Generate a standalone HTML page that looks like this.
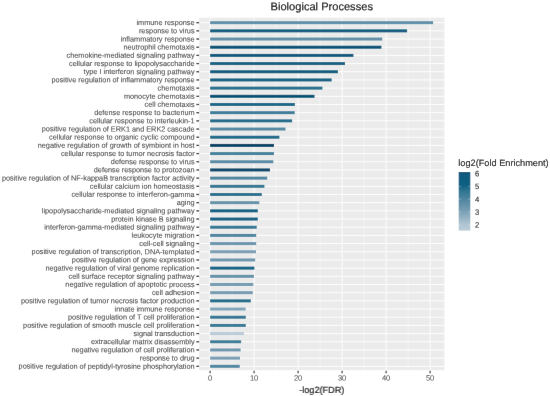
<!DOCTYPE html><html><head><meta charset="utf-8"><style>html,body{margin:0;padding:0;background:#fff;width:550px;height:396px;overflow:hidden}svg{display:block;will-change:transform}text{font-family:"Liberation Sans",sans-serif;text-rendering:geometricPrecision}</style></head><body>
<svg width="550" height="396" viewBox="0 0 550 396">
<defs><filter id="bl" x="0" y="0" width="550" height="396" filterUnits="userSpaceOnUse"><feConvolveMatrix order="3" kernelMatrix="0.00163 0.03713 0.00163 0.03713 0.84497 0.03713 0.00163 0.03713 0.00163" edgeMode="duplicate" preserveAlpha="false"/></filter><linearGradient id="cb" x1="0" y1="1" x2="0" y2="0">
<stop offset="0.000" stop-color="#bccdda"/>
<stop offset="0.110" stop-color="#afc4d2"/>
<stop offset="0.350" stop-color="#759cb2"/>
<stop offset="0.540" stop-color="#4e85a0"/>
<stop offset="0.680" stop-color="#2d7492"/>
<stop offset="0.760" stop-color="#126284"/>
<stop offset="1.000" stop-color="#08587c"/>
</linearGradient></defs><g filter="url(#bl)"><rect x="0" y="0" width="550" height="396" fill="#fff"/>
<rect x="199.1" y="17.7" width="245.30" height="352.40" fill="#EBEBEB"/>
<line x1="232.10" y1="17.7" x2="232.10" y2="370.1" stroke="#fff" stroke-width="0.45"/>
<line x1="276.10" y1="17.7" x2="276.10" y2="370.1" stroke="#fff" stroke-width="0.45"/>
<line x1="320.10" y1="17.7" x2="320.10" y2="370.1" stroke="#fff" stroke-width="0.45"/>
<line x1="364.10" y1="17.7" x2="364.10" y2="370.1" stroke="#fff" stroke-width="0.45"/>
<line x1="408.10" y1="17.7" x2="408.10" y2="370.1" stroke="#fff" stroke-width="0.45"/>
<line x1="199.1" y1="22.67" x2="444.4" y2="22.67" stroke="#fff" stroke-width="0.9"/>
<line x1="199.1" y1="30.85" x2="444.4" y2="30.85" stroke="#fff" stroke-width="0.9"/>
<line x1="199.1" y1="39.03" x2="444.4" y2="39.03" stroke="#fff" stroke-width="0.9"/>
<line x1="199.1" y1="47.22" x2="444.4" y2="47.22" stroke="#fff" stroke-width="0.9"/>
<line x1="199.1" y1="55.40" x2="444.4" y2="55.40" stroke="#fff" stroke-width="0.9"/>
<line x1="199.1" y1="63.58" x2="444.4" y2="63.58" stroke="#fff" stroke-width="0.9"/>
<line x1="199.1" y1="71.76" x2="444.4" y2="71.76" stroke="#fff" stroke-width="0.9"/>
<line x1="199.1" y1="79.94" x2="444.4" y2="79.94" stroke="#fff" stroke-width="0.9"/>
<line x1="199.1" y1="88.13" x2="444.4" y2="88.13" stroke="#fff" stroke-width="0.9"/>
<line x1="199.1" y1="96.31" x2="444.4" y2="96.31" stroke="#fff" stroke-width="0.9"/>
<line x1="199.1" y1="104.49" x2="444.4" y2="104.49" stroke="#fff" stroke-width="0.9"/>
<line x1="199.1" y1="112.67" x2="444.4" y2="112.67" stroke="#fff" stroke-width="0.9"/>
<line x1="199.1" y1="120.85" x2="444.4" y2="120.85" stroke="#fff" stroke-width="0.9"/>
<line x1="199.1" y1="129.04" x2="444.4" y2="129.04" stroke="#fff" stroke-width="0.9"/>
<line x1="199.1" y1="137.22" x2="444.4" y2="137.22" stroke="#fff" stroke-width="0.9"/>
<line x1="199.1" y1="145.40" x2="444.4" y2="145.40" stroke="#fff" stroke-width="0.9"/>
<line x1="199.1" y1="153.58" x2="444.4" y2="153.58" stroke="#fff" stroke-width="0.9"/>
<line x1="199.1" y1="161.76" x2="444.4" y2="161.76" stroke="#fff" stroke-width="0.9"/>
<line x1="199.1" y1="169.95" x2="444.4" y2="169.95" stroke="#fff" stroke-width="0.9"/>
<line x1="199.1" y1="178.13" x2="444.4" y2="178.13" stroke="#fff" stroke-width="0.9"/>
<line x1="199.1" y1="186.31" x2="444.4" y2="186.31" stroke="#fff" stroke-width="0.9"/>
<line x1="199.1" y1="194.49" x2="444.4" y2="194.49" stroke="#fff" stroke-width="0.9"/>
<line x1="199.1" y1="202.67" x2="444.4" y2="202.67" stroke="#fff" stroke-width="0.9"/>
<line x1="199.1" y1="210.86" x2="444.4" y2="210.86" stroke="#fff" stroke-width="0.9"/>
<line x1="199.1" y1="219.04" x2="444.4" y2="219.04" stroke="#fff" stroke-width="0.9"/>
<line x1="199.1" y1="227.22" x2="444.4" y2="227.22" stroke="#fff" stroke-width="0.9"/>
<line x1="199.1" y1="235.40" x2="444.4" y2="235.40" stroke="#fff" stroke-width="0.9"/>
<line x1="199.1" y1="243.58" x2="444.4" y2="243.58" stroke="#fff" stroke-width="0.9"/>
<line x1="199.1" y1="251.77" x2="444.4" y2="251.77" stroke="#fff" stroke-width="0.9"/>
<line x1="199.1" y1="259.95" x2="444.4" y2="259.95" stroke="#fff" stroke-width="0.9"/>
<line x1="199.1" y1="268.13" x2="444.4" y2="268.13" stroke="#fff" stroke-width="0.9"/>
<line x1="199.1" y1="276.31" x2="444.4" y2="276.31" stroke="#fff" stroke-width="0.9"/>
<line x1="199.1" y1="284.49" x2="444.4" y2="284.49" stroke="#fff" stroke-width="0.9"/>
<line x1="199.1" y1="292.68" x2="444.4" y2="292.68" stroke="#fff" stroke-width="0.9"/>
<line x1="199.1" y1="300.86" x2="444.4" y2="300.86" stroke="#fff" stroke-width="0.9"/>
<line x1="199.1" y1="309.04" x2="444.4" y2="309.04" stroke="#fff" stroke-width="0.9"/>
<line x1="199.1" y1="317.22" x2="444.4" y2="317.22" stroke="#fff" stroke-width="0.9"/>
<line x1="199.1" y1="325.40" x2="444.4" y2="325.40" stroke="#fff" stroke-width="0.9"/>
<line x1="199.1" y1="333.59" x2="444.4" y2="333.59" stroke="#fff" stroke-width="0.9"/>
<line x1="199.1" y1="341.77" x2="444.4" y2="341.77" stroke="#fff" stroke-width="0.9"/>
<line x1="199.1" y1="349.95" x2="444.4" y2="349.95" stroke="#fff" stroke-width="0.9"/>
<line x1="199.1" y1="358.13" x2="444.4" y2="358.13" stroke="#fff" stroke-width="0.9"/>
<line x1="199.1" y1="366.31" x2="444.4" y2="366.31" stroke="#fff" stroke-width="0.9"/>
<line x1="210.10" y1="17.7" x2="210.10" y2="370.1" stroke="#fff" stroke-width="0.9"/>
<line x1="254.10" y1="17.7" x2="254.10" y2="370.1" stroke="#fff" stroke-width="0.9"/>
<line x1="298.10" y1="17.7" x2="298.10" y2="370.1" stroke="#fff" stroke-width="0.9"/>
<line x1="342.10" y1="17.7" x2="342.10" y2="370.1" stroke="#fff" stroke-width="0.9"/>
<line x1="386.10" y1="17.7" x2="386.10" y2="370.1" stroke="#fff" stroke-width="0.9"/>
<line x1="430.10" y1="17.7" x2="430.10" y2="370.1" stroke="#fff" stroke-width="0.9"/>
<rect x="210.1" y="21.20" width="223.00" height="2.95" fill="#6090a9"/>
<rect x="210.1" y="29.38" width="197.00" height="2.95" fill="#0a5d80"/>
<rect x="210.1" y="37.56" width="172.10" height="2.95" fill="#6090a9"/>
<rect x="210.1" y="45.74" width="171.30" height="2.95" fill="#045276"/>
<rect x="210.1" y="53.92" width="143.30" height="2.95" fill="#095b7e"/>
<rect x="210.1" y="62.11" width="134.90" height="2.95" fill="#136385"/>
<rect x="210.1" y="70.29" width="127.80" height="2.95" fill="#095b7e"/>
<rect x="210.1" y="78.47" width="121.50" height="2.95" fill="#0f6082"/>
<rect x="210.1" y="86.65" width="112.30" height="2.95" fill="#25708f"/>
<rect x="210.1" y="94.83" width="104.40" height="2.95" fill="#045276"/>
<rect x="210.1" y="103.02" width="84.80" height="2.95" fill="#1c6a8a"/>
<rect x="210.1" y="111.20" width="84.60" height="2.95" fill="#3d7d99"/>
<rect x="210.1" y="119.38" width="82.00" height="2.95" fill="#216d8c"/>
<rect x="210.1" y="127.56" width="75.40" height="2.95" fill="#5489a3"/>
<rect x="210.1" y="135.74" width="69.30" height="2.95" fill="#1c6a8a"/>
<rect x="210.1" y="143.93" width="63.90" height="2.95" fill="#004468"/>
<rect x="210.1" y="152.11" width="63.90" height="2.95" fill="#46829d"/>
<rect x="210.1" y="160.29" width="63.20" height="2.95" fill="#588ca5"/>
<rect x="210.1" y="168.47" width="59.90" height="2.95" fill="#01466a"/>
<rect x="210.1" y="176.65" width="57.10" height="2.95" fill="#5087a1"/>
<rect x="210.1" y="184.84" width="54.30" height="2.95" fill="#347895"/>
<rect x="210.1" y="193.02" width="51.70" height="2.95" fill="#2a7391"/>
<rect x="210.1" y="201.20" width="49.20" height="2.95" fill="#6593aa"/>
<rect x="210.1" y="209.38" width="47.70" height="2.95" fill="#0f6082"/>
<rect x="210.1" y="217.56" width="47.70" height="2.95" fill="#0f6082"/>
<rect x="210.1" y="225.75" width="46.60" height="2.95" fill="#347895"/>
<rect x="210.1" y="233.93" width="46.10" height="2.95" fill="#5087a1"/>
<rect x="210.1" y="242.11" width="46.10" height="2.95" fill="#6d97ae"/>
<rect x="210.1" y="250.29" width="45.90" height="2.95" fill="#7a9fb5"/>
<rect x="210.1" y="258.47" width="45.10" height="2.95" fill="#6d97ae"/>
<rect x="210.1" y="266.65" width="44.30" height="2.95" fill="#136385"/>
<rect x="210.1" y="274.84" width="43.80" height="2.95" fill="#6593aa"/>
<rect x="210.1" y="283.02" width="43.20" height="2.95" fill="#759cb2"/>
<rect x="210.1" y="291.20" width="42.70" height="2.95" fill="#759cb2"/>
<rect x="210.1" y="299.38" width="40.70" height="2.95" fill="#216d8c"/>
<rect x="210.1" y="307.56" width="35.50" height="2.95" fill="#82a5b9"/>
<rect x="210.1" y="315.75" width="35.70" height="2.95" fill="#347895"/>
<rect x="210.1" y="323.93" width="35.70" height="2.95" fill="#387a97"/>
<rect x="210.1" y="332.11" width="33.80" height="2.95" fill="#bacbd9"/>
<rect x="210.1" y="340.29" width="31.00" height="2.95" fill="#3d7d99"/>
<rect x="210.1" y="348.48" width="30.50" height="2.95" fill="#6d97ae"/>
<rect x="210.1" y="356.66" width="29.90" height="2.95" fill="#7a9fb5"/>
<rect x="210.1" y="364.84" width="29.60" height="2.95" fill="#5087a1"/>
<line x1="196.40" y1="22.67" x2="199.1" y2="22.67" stroke="#333" stroke-width="1.3"/>
<line x1="196.40" y1="30.85" x2="199.1" y2="30.85" stroke="#333" stroke-width="1.3"/>
<line x1="196.40" y1="39.03" x2="199.1" y2="39.03" stroke="#333" stroke-width="1.3"/>
<line x1="196.40" y1="47.22" x2="199.1" y2="47.22" stroke="#333" stroke-width="1.3"/>
<line x1="196.40" y1="55.40" x2="199.1" y2="55.40" stroke="#333" stroke-width="1.3"/>
<line x1="196.40" y1="63.58" x2="199.1" y2="63.58" stroke="#333" stroke-width="1.3"/>
<line x1="196.40" y1="71.76" x2="199.1" y2="71.76" stroke="#333" stroke-width="1.3"/>
<line x1="196.40" y1="79.94" x2="199.1" y2="79.94" stroke="#333" stroke-width="1.3"/>
<line x1="196.40" y1="88.13" x2="199.1" y2="88.13" stroke="#333" stroke-width="1.3"/>
<line x1="196.40" y1="96.31" x2="199.1" y2="96.31" stroke="#333" stroke-width="1.3"/>
<line x1="196.40" y1="104.49" x2="199.1" y2="104.49" stroke="#333" stroke-width="1.3"/>
<line x1="196.40" y1="112.67" x2="199.1" y2="112.67" stroke="#333" stroke-width="1.3"/>
<line x1="196.40" y1="120.85" x2="199.1" y2="120.85" stroke="#333" stroke-width="1.3"/>
<line x1="196.40" y1="129.04" x2="199.1" y2="129.04" stroke="#333" stroke-width="1.3"/>
<line x1="196.40" y1="137.22" x2="199.1" y2="137.22" stroke="#333" stroke-width="1.3"/>
<line x1="196.40" y1="145.40" x2="199.1" y2="145.40" stroke="#333" stroke-width="1.3"/>
<line x1="196.40" y1="153.58" x2="199.1" y2="153.58" stroke="#333" stroke-width="1.3"/>
<line x1="196.40" y1="161.76" x2="199.1" y2="161.76" stroke="#333" stroke-width="1.3"/>
<line x1="196.40" y1="169.95" x2="199.1" y2="169.95" stroke="#333" stroke-width="1.3"/>
<line x1="196.40" y1="178.13" x2="199.1" y2="178.13" stroke="#333" stroke-width="1.3"/>
<line x1="196.40" y1="186.31" x2="199.1" y2="186.31" stroke="#333" stroke-width="1.3"/>
<line x1="196.40" y1="194.49" x2="199.1" y2="194.49" stroke="#333" stroke-width="1.3"/>
<line x1="196.40" y1="202.67" x2="199.1" y2="202.67" stroke="#333" stroke-width="1.3"/>
<line x1="196.40" y1="210.86" x2="199.1" y2="210.86" stroke="#333" stroke-width="1.3"/>
<line x1="196.40" y1="219.04" x2="199.1" y2="219.04" stroke="#333" stroke-width="1.3"/>
<line x1="196.40" y1="227.22" x2="199.1" y2="227.22" stroke="#333" stroke-width="1.3"/>
<line x1="196.40" y1="235.40" x2="199.1" y2="235.40" stroke="#333" stroke-width="1.3"/>
<line x1="196.40" y1="243.58" x2="199.1" y2="243.58" stroke="#333" stroke-width="1.3"/>
<line x1="196.40" y1="251.77" x2="199.1" y2="251.77" stroke="#333" stroke-width="1.3"/>
<line x1="196.40" y1="259.95" x2="199.1" y2="259.95" stroke="#333" stroke-width="1.3"/>
<line x1="196.40" y1="268.13" x2="199.1" y2="268.13" stroke="#333" stroke-width="1.3"/>
<line x1="196.40" y1="276.31" x2="199.1" y2="276.31" stroke="#333" stroke-width="1.3"/>
<line x1="196.40" y1="284.49" x2="199.1" y2="284.49" stroke="#333" stroke-width="1.3"/>
<line x1="196.40" y1="292.68" x2="199.1" y2="292.68" stroke="#333" stroke-width="1.3"/>
<line x1="196.40" y1="300.86" x2="199.1" y2="300.86" stroke="#333" stroke-width="1.3"/>
<line x1="196.40" y1="309.04" x2="199.1" y2="309.04" stroke="#333" stroke-width="1.3"/>
<line x1="196.40" y1="317.22" x2="199.1" y2="317.22" stroke="#333" stroke-width="1.3"/>
<line x1="196.40" y1="325.40" x2="199.1" y2="325.40" stroke="#333" stroke-width="1.3"/>
<line x1="196.40" y1="333.59" x2="199.1" y2="333.59" stroke="#333" stroke-width="1.3"/>
<line x1="196.40" y1="341.77" x2="199.1" y2="341.77" stroke="#333" stroke-width="1.3"/>
<line x1="196.40" y1="349.95" x2="199.1" y2="349.95" stroke="#333" stroke-width="1.3"/>
<line x1="196.40" y1="358.13" x2="199.1" y2="358.13" stroke="#333" stroke-width="1.3"/>
<line x1="196.40" y1="366.31" x2="199.1" y2="366.31" stroke="#333" stroke-width="1.3"/>
<g transform="translate(194.60,25.07) skewY(0.03)"><text x="0" y="0" font-size="7.32" fill="#4D4D4D" stroke="#4D4D4D" stroke-width="0.1" text-anchor="end">immune response</text></g>
<g transform="translate(194.60,33.25) skewY(0.03)"><text x="0" y="0" font-size="7.32" fill="#4D4D4D" stroke="#4D4D4D" stroke-width="0.1" text-anchor="end">response to virus</text></g>
<g transform="translate(194.60,41.43) skewY(0.03)"><text x="0" y="0" font-size="7.32" fill="#4D4D4D" stroke="#4D4D4D" stroke-width="0.1" text-anchor="end">inflammatory response</text></g>
<g transform="translate(194.60,49.62) skewY(0.03)"><text x="0" y="0" font-size="7.32" fill="#4D4D4D" stroke="#4D4D4D" stroke-width="0.1" text-anchor="end">neutrophil chemotaxis</text></g>
<g transform="translate(194.60,57.80) skewY(0.03)"><text x="0" y="0" font-size="7.32" fill="#4D4D4D" stroke="#4D4D4D" stroke-width="0.1" text-anchor="end">chemokine-mediated signaling pathway</text></g>
<g transform="translate(194.60,65.98) skewY(0.03)"><text x="0" y="0" font-size="7.32" fill="#4D4D4D" stroke="#4D4D4D" stroke-width="0.1" text-anchor="end">cellular response to lipopolysaccharide</text></g>
<g transform="translate(194.60,74.16) skewY(0.03)"><text x="0" y="0" font-size="7.32" fill="#4D4D4D" stroke="#4D4D4D" stroke-width="0.1" text-anchor="end">type I interferon signaling pathway</text></g>
<g transform="translate(194.60,82.34) skewY(0.03)"><text x="0" y="0" font-size="7.32" fill="#4D4D4D" stroke="#4D4D4D" stroke-width="0.1" text-anchor="end">positive regulation of inflammatory response</text></g>
<g transform="translate(194.60,90.53) skewY(0.03)"><text x="0" y="0" font-size="7.32" fill="#4D4D4D" stroke="#4D4D4D" stroke-width="0.1" text-anchor="end">chemotaxis</text></g>
<g transform="translate(194.60,98.71) skewY(0.03)"><text x="0" y="0" font-size="7.32" fill="#4D4D4D" stroke="#4D4D4D" stroke-width="0.1" text-anchor="end">monocyte chemotaxis</text></g>
<g transform="translate(194.60,106.89) skewY(0.03)"><text x="0" y="0" font-size="7.32" fill="#4D4D4D" stroke="#4D4D4D" stroke-width="0.1" text-anchor="end">cell chemotaxis</text></g>
<g transform="translate(194.60,115.07) skewY(0.03)"><text x="0" y="0" font-size="7.32" fill="#4D4D4D" stroke="#4D4D4D" stroke-width="0.1" text-anchor="end">defense response to bacterium</text></g>
<g transform="translate(194.60,123.25) skewY(0.03)"><text x="0" y="0" font-size="7.32" fill="#4D4D4D" stroke="#4D4D4D" stroke-width="0.1" text-anchor="end">cellular response to interleukin-1</text></g>
<g transform="translate(194.60,131.44) skewY(0.03)"><text x="0" y="0" font-size="7.32" fill="#4D4D4D" stroke="#4D4D4D" stroke-width="0.1" text-anchor="end">positive regulation of ERK1 and ERK2 cascade</text></g>
<g transform="translate(194.60,139.62) skewY(0.03)"><text x="0" y="0" font-size="7.32" fill="#4D4D4D" stroke="#4D4D4D" stroke-width="0.1" text-anchor="end">cellular response to organic cyclic compound</text></g>
<g transform="translate(194.60,147.80) skewY(0.03)"><text x="0" y="0" font-size="7.32" fill="#4D4D4D" stroke="#4D4D4D" stroke-width="0.1" text-anchor="end">negative regulation of growth of symbiont in host</text></g>
<g transform="translate(194.60,155.98) skewY(0.03)"><text x="0" y="0" font-size="7.32" fill="#4D4D4D" stroke="#4D4D4D" stroke-width="0.1" text-anchor="end">cellular response to tumor necrosis factor</text></g>
<g transform="translate(194.60,164.16) skewY(0.03)"><text x="0" y="0" font-size="7.32" fill="#4D4D4D" stroke="#4D4D4D" stroke-width="0.1" text-anchor="end">defense response to virus</text></g>
<g transform="translate(194.60,172.35) skewY(0.03)"><text x="0" y="0" font-size="7.32" fill="#4D4D4D" stroke="#4D4D4D" stroke-width="0.1" text-anchor="end">defense response to protozoan</text></g>
<g transform="translate(194.60,180.53) skewY(0.03)"><text x="0" y="0" font-size="7.32" fill="#4D4D4D" stroke="#4D4D4D" stroke-width="0.1" text-anchor="end">positive regulation of NF-kappaB transcription factor activity</text></g>
<g transform="translate(194.60,188.71) skewY(0.03)"><text x="0" y="0" font-size="7.32" fill="#4D4D4D" stroke="#4D4D4D" stroke-width="0.1" text-anchor="end">cellular calcium ion homeostasis</text></g>
<g transform="translate(194.60,196.89) skewY(0.03)"><text x="0" y="0" font-size="7.32" fill="#4D4D4D" stroke="#4D4D4D" stroke-width="0.1" text-anchor="end">cellular response to interferon-gamma</text></g>
<g transform="translate(194.60,205.07) skewY(0.03)"><text x="0" y="0" font-size="7.32" fill="#4D4D4D" stroke="#4D4D4D" stroke-width="0.1" text-anchor="end">aging</text></g>
<g transform="translate(194.60,213.26) skewY(0.03)"><text x="0" y="0" font-size="7.32" fill="#4D4D4D" stroke="#4D4D4D" stroke-width="0.1" text-anchor="end">lipopolysaccharide-mediated signaling pathway</text></g>
<g transform="translate(194.60,221.44) skewY(0.03)"><text x="0" y="0" font-size="7.32" fill="#4D4D4D" stroke="#4D4D4D" stroke-width="0.1" text-anchor="end">protein kinase B signaling</text></g>
<g transform="translate(194.60,229.62) skewY(0.03)"><text x="0" y="0" font-size="7.32" fill="#4D4D4D" stroke="#4D4D4D" stroke-width="0.1" text-anchor="end">interferon-gamma-mediated signaling pathway</text></g>
<g transform="translate(194.60,237.80) skewY(0.03)"><text x="0" y="0" font-size="7.32" fill="#4D4D4D" stroke="#4D4D4D" stroke-width="0.1" text-anchor="end">leukocyte migration</text></g>
<g transform="translate(194.60,245.98) skewY(0.03)"><text x="0" y="0" font-size="7.32" fill="#4D4D4D" stroke="#4D4D4D" stroke-width="0.1" text-anchor="end">cell-cell signaling</text></g>
<g transform="translate(194.60,254.17) skewY(0.03)"><text x="0" y="0" font-size="7.32" fill="#4D4D4D" stroke="#4D4D4D" stroke-width="0.1" text-anchor="end">positive regulation of transcription, DNA-templated</text></g>
<g transform="translate(194.60,262.35) skewY(0.03)"><text x="0" y="0" font-size="7.32" fill="#4D4D4D" stroke="#4D4D4D" stroke-width="0.1" text-anchor="end">positive regulation of gene expression</text></g>
<g transform="translate(194.60,270.53) skewY(0.03)"><text x="0" y="0" font-size="7.32" fill="#4D4D4D" stroke="#4D4D4D" stroke-width="0.1" text-anchor="end">negative regulation of viral genome replication</text></g>
<g transform="translate(194.60,278.71) skewY(0.03)"><text x="0" y="0" font-size="7.32" fill="#4D4D4D" stroke="#4D4D4D" stroke-width="0.1" text-anchor="end">cell surface receptor signaling pathway</text></g>
<g transform="translate(194.60,286.89) skewY(0.03)"><text x="0" y="0" font-size="7.32" fill="#4D4D4D" stroke="#4D4D4D" stroke-width="0.1" text-anchor="end">negative regulation of apoptotic process</text></g>
<g transform="translate(194.60,295.08) skewY(0.03)"><text x="0" y="0" font-size="7.32" fill="#4D4D4D" stroke="#4D4D4D" stroke-width="0.1" text-anchor="end">cell adhesion</text></g>
<g transform="translate(194.60,303.26) skewY(0.03)"><text x="0" y="0" font-size="7.32" fill="#4D4D4D" stroke="#4D4D4D" stroke-width="0.1" text-anchor="end">positive regulation of tumor necrosis factor production</text></g>
<g transform="translate(194.60,311.44) skewY(0.03)"><text x="0" y="0" font-size="7.32" fill="#4D4D4D" stroke="#4D4D4D" stroke-width="0.1" text-anchor="end">innate immune response</text></g>
<g transform="translate(194.60,319.62) skewY(0.03)"><text x="0" y="0" font-size="7.32" fill="#4D4D4D" stroke="#4D4D4D" stroke-width="0.1" text-anchor="end">positive regulation of T cell proliferation</text></g>
<g transform="translate(194.60,327.80) skewY(0.03)"><text x="0" y="0" font-size="7.32" fill="#4D4D4D" stroke="#4D4D4D" stroke-width="0.1" text-anchor="end">positive regulation of smooth muscle cell proliferation</text></g>
<g transform="translate(194.60,335.99) skewY(0.03)"><text x="0" y="0" font-size="7.32" fill="#4D4D4D" stroke="#4D4D4D" stroke-width="0.1" text-anchor="end">signal transduction</text></g>
<g transform="translate(194.60,344.17) skewY(0.03)"><text x="0" y="0" font-size="7.32" fill="#4D4D4D" stroke="#4D4D4D" stroke-width="0.1" text-anchor="end">extracellular matrix disassembly</text></g>
<g transform="translate(194.60,352.35) skewY(0.03)"><text x="0" y="0" font-size="7.32" fill="#4D4D4D" stroke="#4D4D4D" stroke-width="0.1" text-anchor="end">negative regulation of cell proliferation</text></g>
<g transform="translate(194.60,360.53) skewY(0.03)"><text x="0" y="0" font-size="7.32" fill="#4D4D4D" stroke="#4D4D4D" stroke-width="0.1" text-anchor="end">response to drug</text></g>
<g transform="translate(194.60,368.71) skewY(0.03)"><text x="0" y="0" font-size="7.32" fill="#4D4D4D" stroke="#4D4D4D" stroke-width="0.1" text-anchor="end">positive regulation of peptidyl-tyrosine phosphorylation</text></g>
<line x1="210.10" y1="370.70" x2="210.10" y2="373.30" stroke="#333" stroke-width="1.15"/>
<g transform="translate(210.10,380.60) skewY(0.03)"><text x="0" y="0" font-size="7.55" fill="#4D4D4D" stroke="#4D4D4D" stroke-width="0.05" text-anchor="middle">0</text></g>
<line x1="254.10" y1="370.70" x2="254.10" y2="373.30" stroke="#333" stroke-width="1.15"/>
<g transform="translate(254.10,380.60) skewY(0.03)"><text x="0" y="0" font-size="7.55" fill="#4D4D4D" stroke="#4D4D4D" stroke-width="0.05" text-anchor="middle">10</text></g>
<line x1="298.10" y1="370.70" x2="298.10" y2="373.30" stroke="#333" stroke-width="1.15"/>
<g transform="translate(298.10,380.60) skewY(0.03)"><text x="0" y="0" font-size="7.55" fill="#4D4D4D" stroke="#4D4D4D" stroke-width="0.05" text-anchor="middle">20</text></g>
<line x1="342.10" y1="370.70" x2="342.10" y2="373.30" stroke="#333" stroke-width="1.15"/>
<g transform="translate(342.10,380.60) skewY(0.03)"><text x="0" y="0" font-size="7.55" fill="#4D4D4D" stroke="#4D4D4D" stroke-width="0.05" text-anchor="middle">30</text></g>
<line x1="386.10" y1="370.70" x2="386.10" y2="373.30" stroke="#333" stroke-width="1.15"/>
<g transform="translate(386.10,380.60) skewY(0.03)"><text x="0" y="0" font-size="7.55" fill="#4D4D4D" stroke="#4D4D4D" stroke-width="0.05" text-anchor="middle">40</text></g>
<line x1="430.10" y1="370.70" x2="430.10" y2="373.30" stroke="#333" stroke-width="1.15"/>
<g transform="translate(430.10,380.60) skewY(0.03)"><text x="0" y="0" font-size="7.55" fill="#4D4D4D" stroke="#4D4D4D" stroke-width="0.05" text-anchor="middle">50</text></g>
<g transform="translate(321.75,10.30) skewY(0.03)"><text x="0" y="0" font-size="11.1" fill="#000" stroke="#000" stroke-width="0.15" text-anchor="middle">Biological Processes</text></g>
<g transform="translate(321.75,393.00) skewY(0.03)"><text x="0" y="0" font-size="9.1" fill="#000" stroke="#000" stroke-width="0.15" text-anchor="middle">-log2(FDR)</text></g>
<g transform="translate(458.30,165.90) skewY(0.03)"><text x="0" y="0" font-size="9.2" fill="#000" stroke="#000" stroke-width="0.1">log2(Fold Enrichment)</text></g>
<rect x="458.7" y="172.0" width="11.6" height="58.60" fill="url(#cb)"/>
<line x1="458.7" y1="224.83" x2="461.02" y2="224.83" stroke="#fff" stroke-width="0.5" stroke-opacity="0.55"/>
<line x1="467.98" y1="224.83" x2="470.30" y2="224.83" stroke="#fff" stroke-width="0.5" stroke-opacity="0.55"/>
<g transform="translate(475.10,227.58) skewY(0.03)"><text x="0" y="0" font-size="7.7" fill="#111" stroke="#111" stroke-width="0.1">2</text></g>
<line x1="458.7" y1="212.01" x2="461.02" y2="212.01" stroke="#fff" stroke-width="0.5" stroke-opacity="0.55"/>
<line x1="467.98" y1="212.01" x2="470.30" y2="212.01" stroke="#fff" stroke-width="0.5" stroke-opacity="0.55"/>
<g transform="translate(475.10,214.76) skewY(0.03)"><text x="0" y="0" font-size="7.7" fill="#111" stroke="#111" stroke-width="0.1">3</text></g>
<line x1="458.7" y1="199.18" x2="461.02" y2="199.18" stroke="#fff" stroke-width="0.5" stroke-opacity="0.55"/>
<line x1="467.98" y1="199.18" x2="470.30" y2="199.18" stroke="#fff" stroke-width="0.5" stroke-opacity="0.55"/>
<g transform="translate(475.10,201.93) skewY(0.03)"><text x="0" y="0" font-size="7.7" fill="#111" stroke="#111" stroke-width="0.1">4</text></g>
<line x1="458.7" y1="186.36" x2="461.02" y2="186.36" stroke="#fff" stroke-width="0.5" stroke-opacity="0.55"/>
<line x1="467.98" y1="186.36" x2="470.30" y2="186.36" stroke="#fff" stroke-width="0.5" stroke-opacity="0.55"/>
<g transform="translate(475.10,189.11) skewY(0.03)"><text x="0" y="0" font-size="7.7" fill="#111" stroke="#111" stroke-width="0.1">5</text></g>
<g transform="translate(475.10,176.29) skewY(0.03)"><text x="0" y="0" font-size="7.7" fill="#111" stroke="#111" stroke-width="0.1">6</text></g>
</g></svg></body></html>
